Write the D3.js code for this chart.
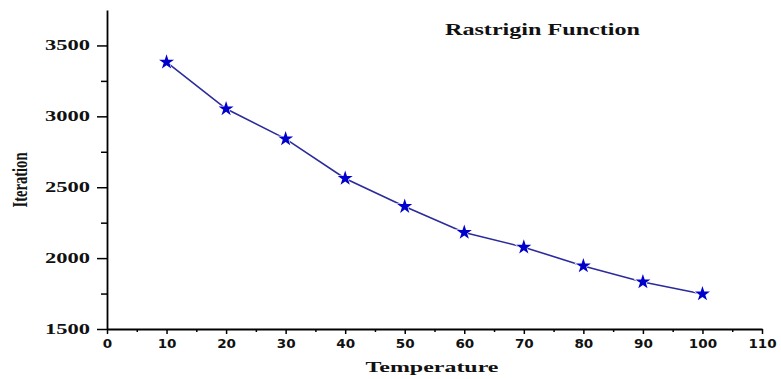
<!DOCTYPE html>
<html><head><meta charset="utf-8">
<script src="https://cdn.jsdelivr.net/npm/d3@7"></script>
<style>body{margin:0;background:#fff}svg{display:block}</style>
</head><body>
<svg id="c" width="781" height="379"></svg>
<script>
const temperature = [10, 20, 30, 40, 50, 60, 70, 80, 90, 100];
const iterations = [3382, 3053, 2841, 2562, 2364, 2181, 2077, 1945, 1832, 1747];
const xTicks = [0, 10, 20, 30, 40, 50, 60, 70, 80, 90, 100, 110];
const yTicks = [1500, 2000, 2500, 3000, 3500];
const title = "Rastrigin Function";
const xLabel = "Temperature";
const yLabel = "Iteration";

const svg = d3.select("#c");
const x = d3.scaleLinear().domain([0, 110]).range([107, 762]);
const y = d3.scaleLinear().domain([1500, 3750]).range([329, 10]);

// minor ticks
svg.append("g").attr("transform", "translate(0,329)")
  .call(d3.axisBottom(x).tickValues(d3.range(5, 110, 10)).tickSize(3).tickFormat(""))
  .call(g => g.select(".domain").remove())
  .call(g => g.selectAll("line").attr("stroke", "#000").attr("stroke-width", 1.5));
svg.append("g").attr("transform", "translate(107,0)")
  .call(d3.axisLeft(y).tickValues(d3.range(1750, 3750, 500)).tickSize(6).tickFormat(""))
  .call(g => g.select(".domain").remove())
  .call(g => g.selectAll("line").attr("stroke", "#000").attr("stroke-width", 1.5));

// major axes
const xa = svg.append("g").attr("transform", "translate(0,329)")
  .call(d3.axisBottom(x).tickValues(xTicks).tickFormat(d3.format("d")).tickSize(5).tickPadding(5).tickSizeOuter(0));
xa.select(".domain").attr("stroke", "#000").attr("stroke-width", 1.8);
xa.selectAll("line").attr("stroke", "#000").attr("stroke-width", 1.5);
xa.selectAll("text").attr("font-family", "DejaVu Sans").attr("font-weight", "bold")
  .attr("font-size", 12).attr("fill", "#111")
  .attr("textLength", d => String(d).length * 9.4).attr("lengthAdjust", "spacingAndGlyphs");

const ya = svg.append("g").attr("transform", "translate(107,0)")
  .call(d3.axisLeft(y).tickValues(yTicks).tickFormat(d3.format("d")).tickSize(10).tickPadding(7).tickSizeOuter(0));
ya.select(".domain").attr("stroke", "#000").attr("stroke-width", 1.8);
ya.selectAll("line").attr("stroke", "#000").attr("stroke-width", 1.5);
ya.selectAll("text").attr("font-family", "Liberation Serif").attr("font-weight", "bold")
  .attr("font-size", 14).attr("fill", "#111")
  .attr("textLength", 45).attr("lengthAdjust", "spacingAndGlyphs");

// line
const line = d3.line().x((d, i) => x(temperature[i])).y(d => y(d));
svg.append("path").datum(iterations).attr("d", line)
  .attr("fill", "none").attr("stroke", "#2b2b9c").attr("stroke-width", 1.6);

// stars
const star = d3.symbol().type(d3.symbolStar).size(70);
svg.selectAll(".pt").data(iterations).join("path")
  .attr("transform", (d, i) => `translate(${x(temperature[i])},${y(d)})`)
  .attr("d", star).attr("fill", "#0000cc").attr("stroke", "#fff").attr("stroke-width", 1.2)
  .attr("paint-order", "stroke");

// texts
svg.append("text").attr("x", 445).attr("y", 35).text(title)
  .attr("font-family", "Liberation Serif").attr("font-weight", "bold").attr("font-size", 16)
  .attr("fill", "#111").attr("textLength", 195).attr("lengthAdjust", "spacingAndGlyphs");
svg.append("text").attr("x", 432).attr("y", 372).attr("text-anchor", "middle").text(xLabel)
  .attr("font-family", "Liberation Serif").attr("font-weight", "bold").attr("font-size", 15)
  .attr("fill", "#111").attr("textLength", 133).attr("lengthAdjust", "spacingAndGlyphs");
svg.append("text").attr("transform", "translate(27,180) rotate(-90)").attr("text-anchor", "middle").text(yLabel)
  .attr("font-family", "Liberation Serif").attr("font-weight", "bold").attr("font-size", 20)
  .attr("fill", "#111").attr("textLength", 55).attr("lengthAdjust", "spacingAndGlyphs");
</script>
</body></html>
